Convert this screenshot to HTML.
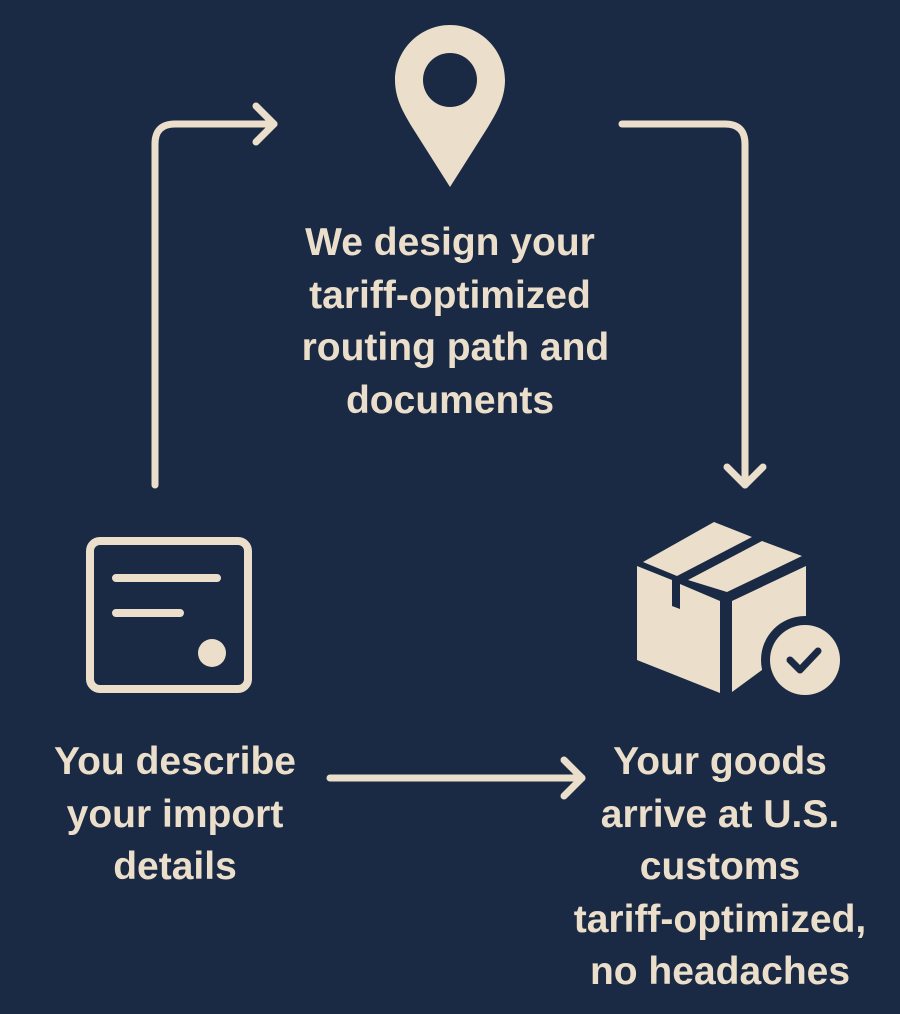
<!DOCTYPE html>
<html><head><style>
html,body{margin:0;padding:0;background:#1b2a44;}
.t{position:absolute;color:#ebdfcb;font-family:"Liberation Sans",sans-serif;font-weight:bold;font-size:39px;line-height:52.5px;text-align:center;white-space:nowrap;}
</style></head><body>
<div style="position:relative;width:900px;height:1014px;overflow:hidden;background:#1b2a44">
<svg width="900" height="1014" style="position:absolute;left:0;top:0">
<g fill="none" stroke="#ebdfcb" stroke-width="7" stroke-linecap="round" stroke-linejoin="round">
<path d="M155 485 V144 Q155 124 175 124 H274"/>
<path d="M256 106 L274 124 L256 142"/>
<path d="M622 124 H725 Q745 124 745 144 V485"/>
<path d="M727 467 L745 485 L763 467"/>
<path d="M330 778 H582"/>
<path d="M564 760 L582 778 L564 796"/>
<rect x="90" y="541" width="158" height="148" rx="10" stroke-width="8"/>
<path d="M116 578 H217 M116 613 H180" stroke-width="8"/>
</g>
<circle cx="212" cy="653" r="14" fill="#ebdfcb"/>
<path d="M450 25 C480 25 505 50 505 80 C505 100 495 115 488 127 L450 187 L412 127 C405 115 395 100 395 80 C395 50 420 25 450 25 Z" fill="#ebdfcb"/>
<circle cx="450" cy="80" r="27" fill="#1b2a44"/>
<g fill="#ebdfcb">
<polygon points="643,562 714,522 752,537 677,576"/>
<polygon points="688,580 762,541 802,556 727,592"/>
<polygon points="637,566 672,580 672,606 680,609 680,584 720,601 720,693 637,660"/>
<polygon points="732,601 806,566 806,620 770,640 762,670 732,692"/>
</g>
<circle cx="805" cy="660" r="44" fill="#1b2a44"/>
<circle cx="805" cy="660" r="35" fill="#ebdfcb"/>
<path d="M790 660 L800 670 L818 651" fill="none" stroke="#1b2a44" stroke-width="7" stroke-linecap="round" stroke-linejoin="round"/>
</svg>
<div class="t" style="left:250px;width:400px;top:217px">We design your<br>tariff-optimized<br>&nbsp;routing path and<br>documents</div>
<div class="t" style="left:25px;width:300px;top:736px">You describe<br>your import<br>details</div>
<div class="t" style="left:520px;width:400px;top:736px">Your goods<br>arrive at U.S.<br>customs<br>tariff-optimized,<br>no headaches</div>
</div>
</body></html>
